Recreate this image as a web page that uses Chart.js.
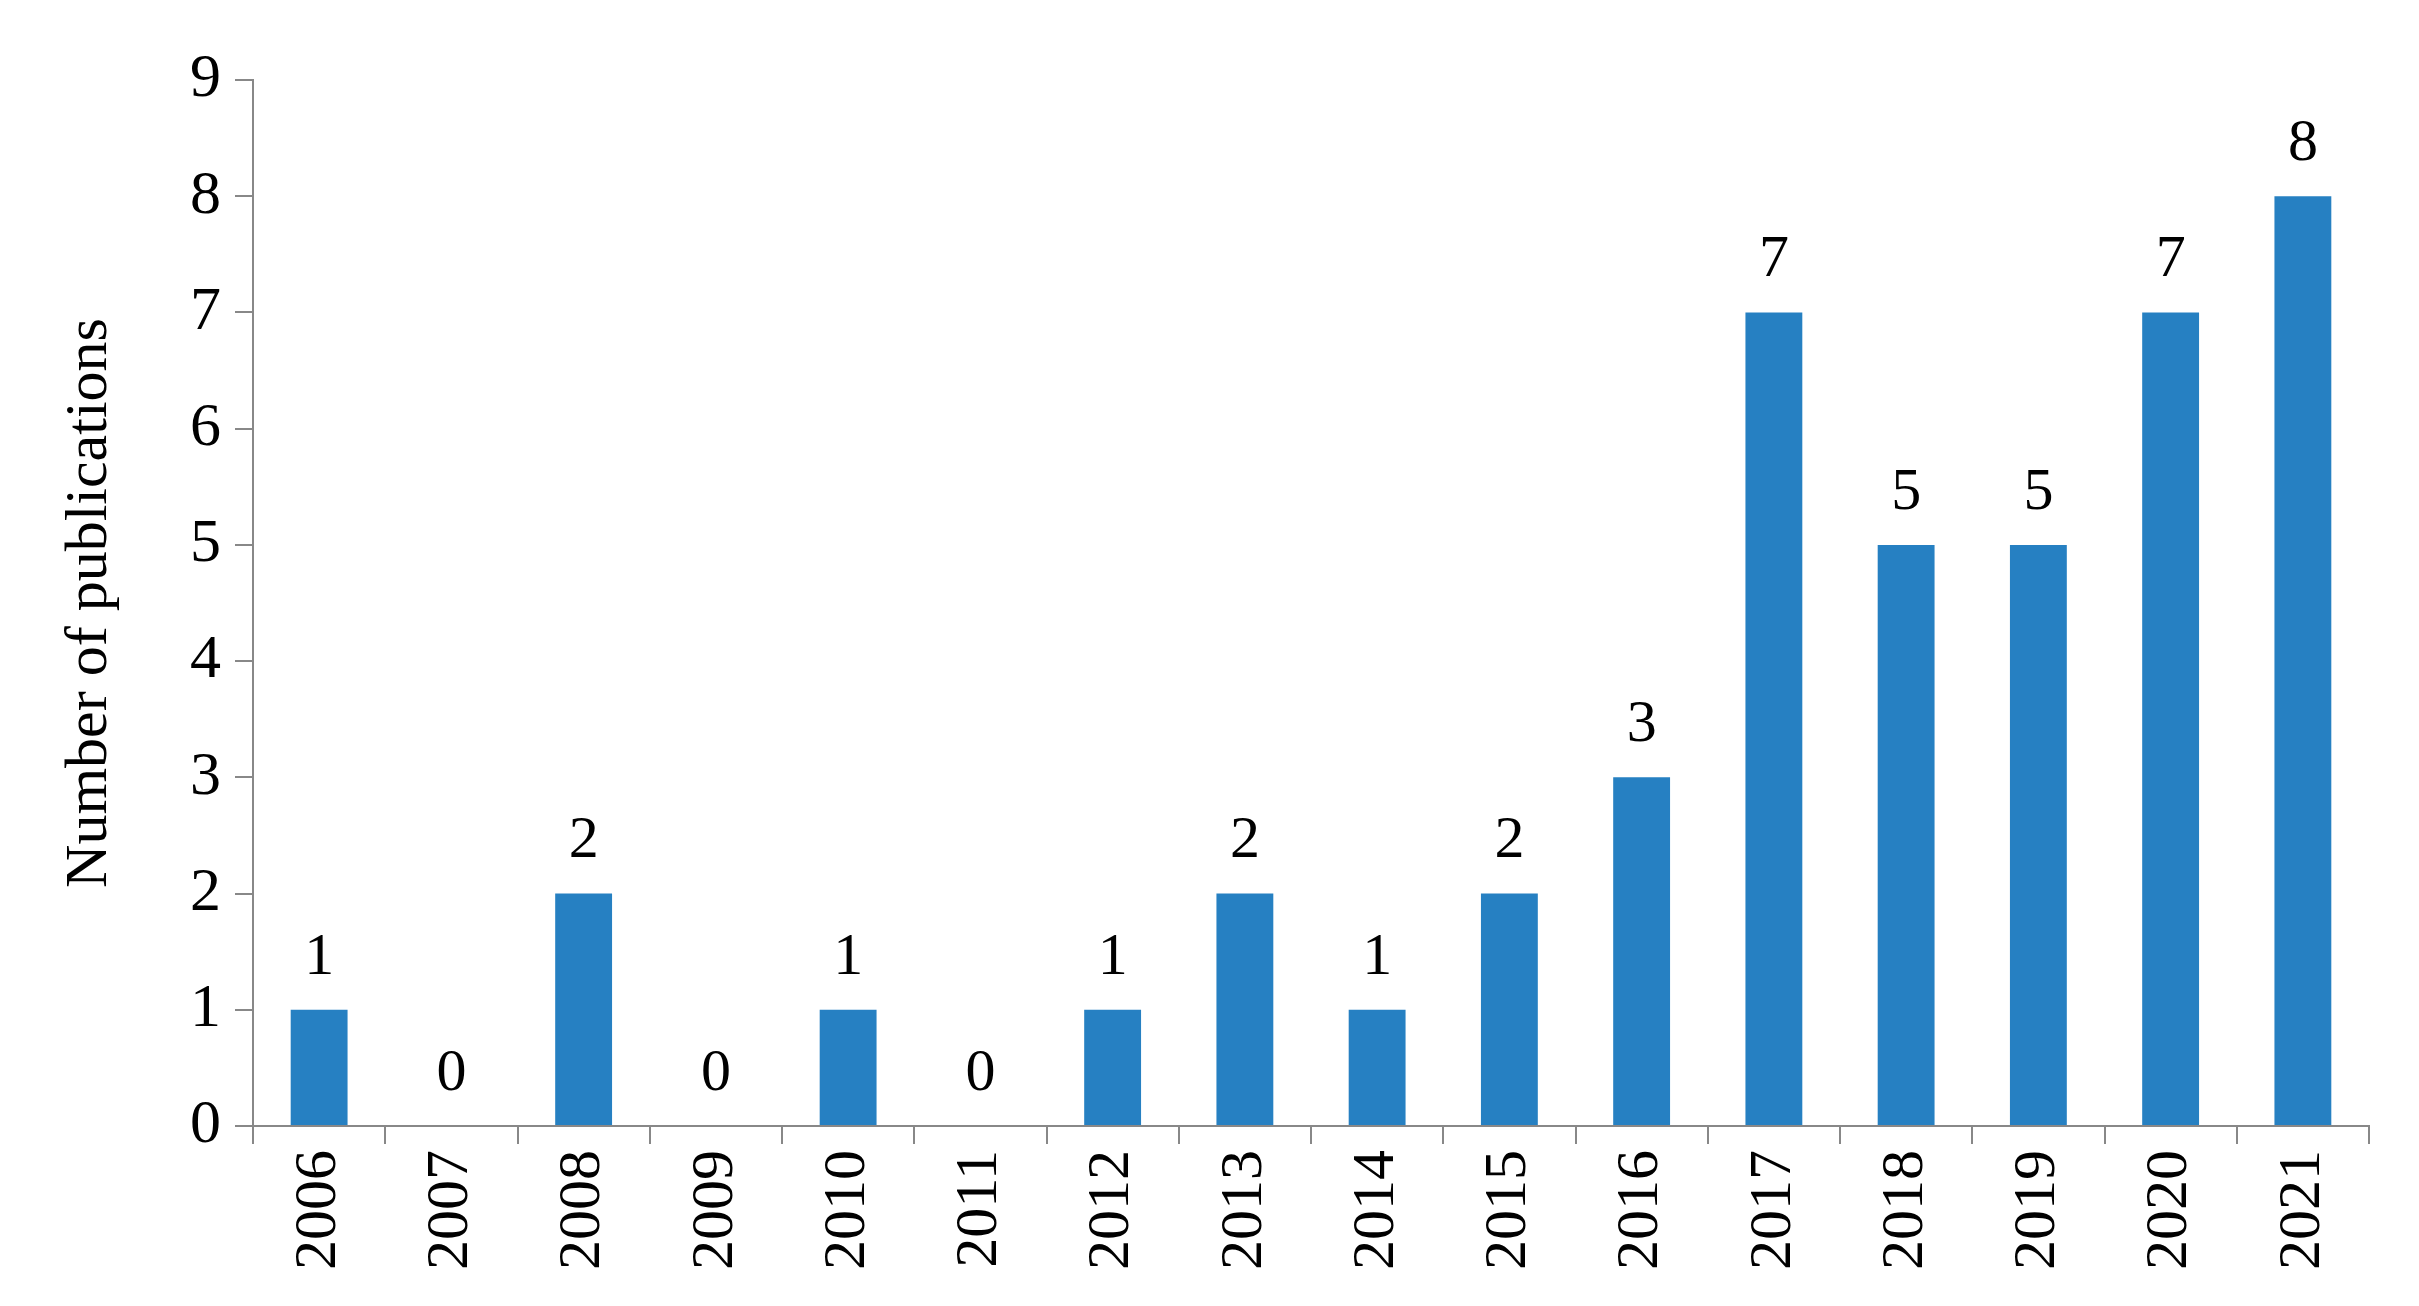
<!DOCTYPE html>
<html>
<head>
<meta charset="utf-8">
<script src="https://cdn.jsdelivr.net/npm/chart.js@4"></script>
<style>
  html, body { margin: 0; padding: 0; background: #fff; }
  #wrap { width: 2419px; height: 1306px; }
</style>
</head>
<body>
<div id="wrap"><canvas id="pubChart"></canvas></div>
<script>
const years = ['2006','2007','2008','2009','2010','2011','2012','2013','2014','2015','2016','2017','2018','2019','2020','2021'];
const publications = [1, 0, 2, 0, 1, 0, 1, 2, 1, 2, 3, 7, 5, 5, 7, 8];
const yTicks = [0, 1, 2, 3, 4, 5, 6, 7, 8, 9];

const serif = '"Liberation Serif", "Times New Roman", serif';

// value labels above bars
const valueLabels = {
  id: 'valueLabels',
  afterDatasetsDraw(chart) {
    const ctx = chart.ctx;
    const meta = chart.getDatasetMeta(0);
    ctx.save();
    ctx.font = '60px ' + serif;
    ctx.fillStyle = '#000';
    ctx.textAlign = 'center';
    ctx.textBaseline = 'bottom';
    meta.data.forEach((bar, i) => {
      ctx.fillText(String(publications[i]), bar.x, bar.y - 22);
    });
    ctx.restore();
  }
};

new Chart(document.getElementById('pubChart'), {
  type: 'bar',
  data: {
    labels: years,
    datasets: [{
      data: publications,
      backgroundColor: '#2680C2',
      categoryPercentage: 1,
      barPercentage: 0.43,
    }],
  },
  options: {
    responsive: true,
    maintainAspectRatio: false,
    animation: false,
    layout: { padding: { top: 80, right: 50, bottom: 30, left: 50 } },
    plugins: { legend: { display: false }, tooltip: { enabled: false } },
    scales: {
      x: {
        grid: { display: true, drawOnChartArea: false, offset: true, color: '#888', tickLength: 18, lineWidth: 2 },
        border: { color: '#888', width: 2 },
        ticks: { font: { family: serif, size: 60 }, color: '#000', maxRotation: 90, minRotation: 90, padding: 6 },
      },
      y: {
        min: 0, max: 9,
        afterBuildTicks(axis) { axis.ticks = yTicks.map(v => ({ value: v })); },
        grid: { display: true, drawOnChartArea: false, color: '#888', tickLength: 18, lineWidth: 2 },
        border: { color: '#888', width: 2 },
        ticks: { font: { family: serif, size: 62 }, color: '#000', padding: 14 },
        title: { display: true, text: 'Number of publications', font: { family: serif, size: 60 }, color: '#000', padding: { bottom: 50 } },
      },
    },
  },
  plugins: [valueLabels],
});
</script>
</body>
</html>
